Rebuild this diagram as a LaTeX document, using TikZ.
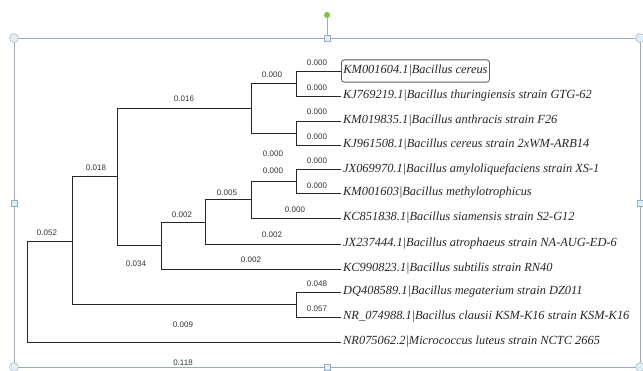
\documentclass[tikz,border=0pt]{standalone}
\usepackage{fontspec}
\setmainfont{Liberation Serif}
\newfontfamily\numfont{Liberation Sans}
\usetikzlibrary{positioning}
\definecolor{framebl}{RGB}{150,172,192}
\definecolor{handlefill}{RGB}{226,238,246}
\definecolor{rotgreen}{RGB}{125,195,70}
\tikzset{font={\fontsize{13pt}{15}\selectfont}}

\begin{document}
\begin{tikzpicture}[x=1pt,y=-1pt,
taxon/.style={anchor=west,inner xsep=2pt,inner ysep=1pt,font={\fontsize{12.4pt}{15}\itshape\selectfont},text=black!85},
hilite/.style={draw=black!65,rounded corners=3pt,inner ysep=5.5pt,line width=0.8pt},
blen/.style={font={\numfont\fontsize{8pt}{9}\selectfont},text=black!80,inner sep=0pt},
branch/.style={line width=0.9pt,black!85},
roundhandle/.style={circle,draw=framebl,fill=handlefill,minimum size=9pt,inner sep=0pt},
squarehandle/.style={draw=framebl,fill=handlefill,minimum size=6pt,inner sep=0pt}
]
\useasboundingbox (0,0) rectangle (643,370);

% selection frame with handles
\draw[framebl,line width=0.8pt] (14,38) rectangle (640,367);
\node[roundhandle] (hnw) at (14,38) {};
\node[roundhandle] (hne) at (640,38) {};
\node[roundhandle] (hsw) at (14,367) {};
\node[roundhandle] (hse) at (640,367) {};
\node[squarehandle] (hn) at (327,38) {};
\node[squarehandle] (hs) at (327,367) {};
\node[squarehandle] (hw) at (14,203) {};
\node[squarehandle] (he) at (640,203) {};
\node[circle,fill=rotgreen,minimum size=6pt,inner sep=0pt] (hrot) at (327,15) {};
\draw[framebl,line width=0.8pt] (hrot) -- (hn);

% taxa
\node[taxon,hilite] (l1) at (341,71) {KM001604.1|Bacillus cereus};
\foreach \name/\y/\txt in {
  l2/96/KJ769219.1|Bacillus thuringiensis strain GTG-62,
  l3/121/KM019835.1|Bacillus anthracis strain F26,
  l4/145/KJ961508.1|Bacillus cereus strain 2xWM-ARB14,
  l5/169/JX069970.1|Bacillus amyloliquefaciens strain XS-1,
  l6/193/KM001603|Bacillus methylotrophicus,
  l7/218/KC851838.1|Bacillus siamensis strain S2-G12,
  l8/244/JX237444.1|Bacillus atrophaeus strain NA-AUG-ED-6,
  l9/269/KC990823.1|Bacillus subtilis strain RN40,
  l10/292/DQ408589.1|Bacillus megaterium strain DZ011,
  l11/317/NR\_074988.1|Bacillus clausii KSM-K16 strain KSM-K16,
  l12/342/NR075062.2|Micrococcus luteus strain NCTC 2665}
  \node[taxon] (\name) at (341,\y) {\txt};

% internal nodes
\coordinate (nRoot) at (27,291.5);
\coordinate (nG) at (72,241);
\coordinate (nX) at (117,176.75);
\coordinate (nAB) at (251,108.25);
\coordinate (nA) at (296,83.5);
\coordinate (nB) at (296,133);
\coordinate (nF) at (161,245.5);
\coordinate (nE) at (205,222);
\coordinate (nD) at (251,199.5);
\coordinate (nC) at (296,181);
\coordinate (nH) at (296,304.5);

\foreach \p/\c in {nRoot/nG,nRoot/l12,nG/nX,nG/nH,nX/nAB,nX/nF,nAB/nA,nAB/nB,
  nA/l1,nA/l2,nB/l3,nB/l4,nF/nE,nF/l9,nE/nD,nE/l8,nD/nC,nD/l7,nC/l5,nC/l6,
  nH/l10,nH/l11}
  \draw[branch] (\p) |- (\c);

% branch lengths
\foreach \x/\y/\v [count=\i] in {317/63/0.000,317/88/0.000,272/75/0.000,
  317/112/0.000,317/137/0.000,184/99/0.016,273/154/0.000,317/161/0.000,
  273/171/0.000,317/186/0.000,227/193/0.005,295/210/0.000,182/215/0.002,
  272/235/0.002,96/168/0.018,47/233/0.052,136/264/0.034,251/260/0.002,
  317/284/0.048,317/309/0.057,183/325/0.009,183/363/0.118}
  \node[blen] (bl\i) at (\x,\y) {\v};

\end{tikzpicture}
\end{document}
